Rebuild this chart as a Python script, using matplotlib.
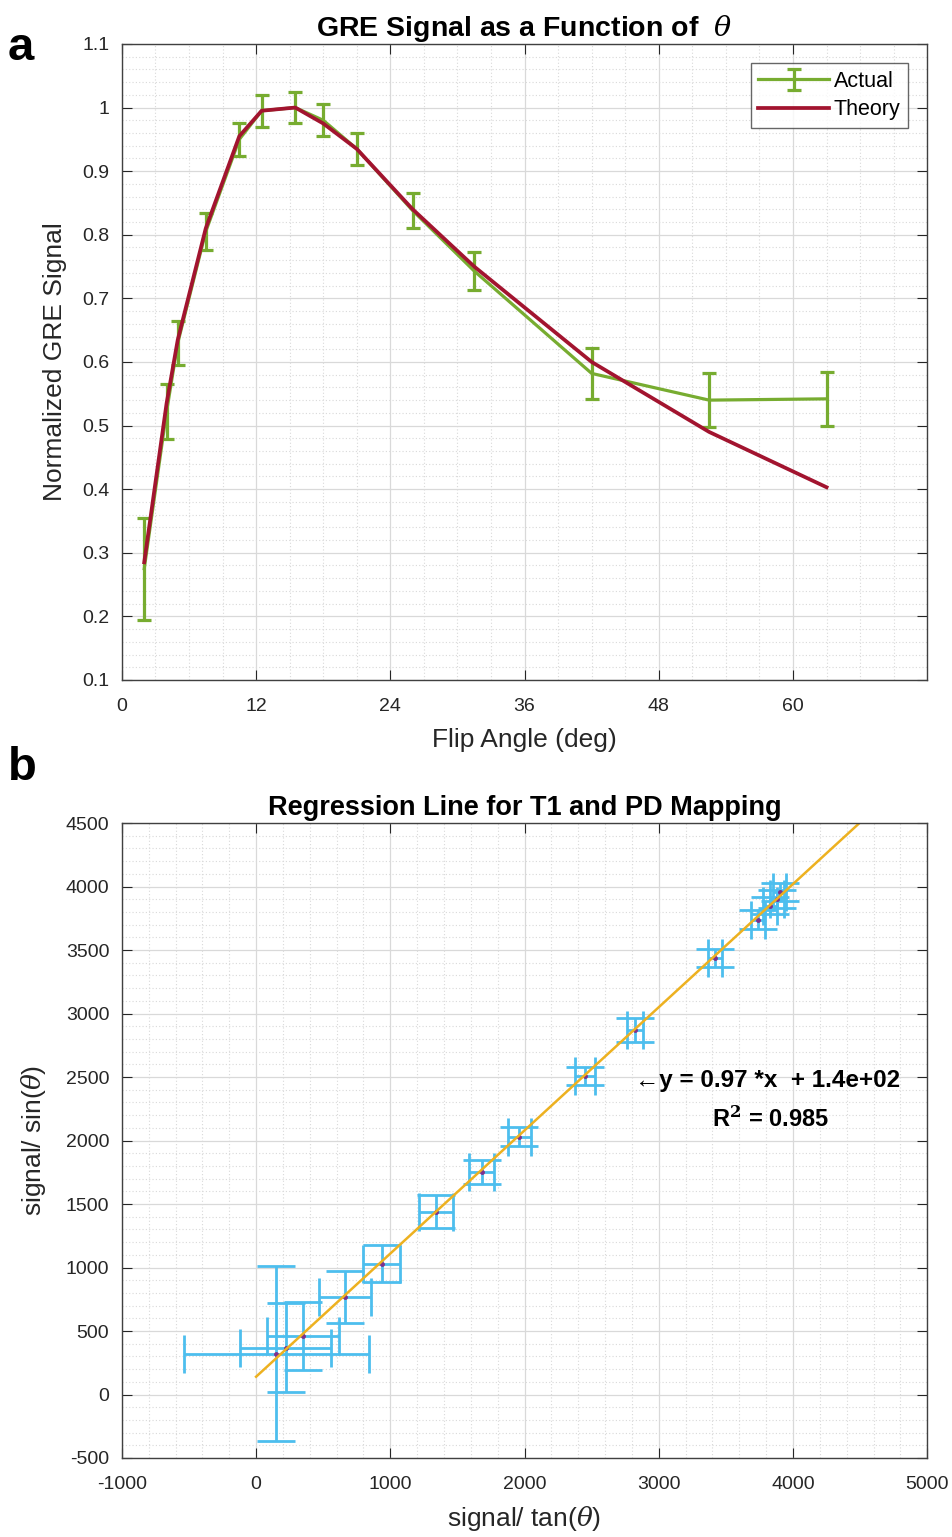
"""Two-panel GRE figure: signal vs flip angle, and the T1/PD regression."""

import matplotlib
matplotlib.use("Agg")
import matplotlib.pyplot as plt
from matplotlib.ticker import FuncFormatter, MultipleLocator

plt.rcParams.update({
    "font.family": ["Liberation Sans", "DejaVu Sans"],
    "axes.unicode_minus": False,
    "mathtext.fontset": "dejavuserif",
})

# panel a
flip_deg = [2, 4, 5, 7.5, 10.5, 12.5, 15.5, 18, 21, 26, 31.5, 42, 52.5, 63]
actual = [0.275, 0.522, 0.630, 0.805, 0.950, 0.995, 1.000, 0.980, 0.935,
          0.838, 0.743, 0.582, 0.540, 0.542]
actual_err = [0.080, 0.043, 0.035, 0.029, 0.026, 0.025, 0.024, 0.025, 0.025,
              0.028, 0.030, 0.040, 0.042, 0.042]
theory = [0.285, 0.535, 0.635, 0.810, 0.955, 0.995, 1.000, 0.975, 0.935,
          0.840, 0.750, 0.600, 0.490, 0.403]

# panel b
sig_tan = [150, 220, 350, 660, 935, 1340, 1680, 1960, 2450, 2820, 3420,
           3740, 3830, 3880, 3900]
sig_sin = [320, 370, 460, 770, 1030, 1440, 1750, 2030, 2510, 2870, 3440,
           3740, 3850, 3900, 3960]
sig_tan_err = [690, 340, 270, 195, 135, 125, 95, 87, 75, 60, 50,
               55, 50, 50, 50]
sig_sin_err = [690, 350, 270, 205, 145, 130, 95, 75, 72, 95, 72,
               75, 70, 70, 70]
slope, intercept = 0.97, 140
r_squared = 0.985
fit_x = [0, 4500]

GREEN = "#77AC30"
RED = "#A2142F"
BLUE = "#4DBEEE"
ORANGE = "#EDB120"
PURPLE = "#7E2F8E"
TXT = "#262626"


def matlab_axes(ax):
    ax.grid(True, which="major", color="#d9d9d9", lw=0.9, ls="-")
    ax.grid(True, which="minor", color="#d9d9d9", lw=0.8, ls=(0, (1, 2)))
    ax.set_axisbelow(True)
    ax.tick_params(which="both", direction="in", top=True, right=True,
                   labelsize=14, colors=TXT, pad=9)
    ax.tick_params(axis="x", which="both", pad=13)
    ax.tick_params(which="major", length=7)
    ax.tick_params(which="minor", length=0)
    for s in ax.spines.values():
        s.set_color("#404040")
        s.set_linewidth(1.0)


fig = plt.figure(figsize=(9.52, 15.37), dpi=100)

# ---- a ----
ax1 = fig.add_axes([0.128, 0.5576, 0.846, 0.4138])
eb = ax1.errorbar(flip_deg, actual, yerr=actual_err, color=GREEN, lw=2.3,
                  elinewidth=2.3, capsize=5, capthick=2.3, zorder=2)
th, = ax1.plot(flip_deg, theory, color=RED, lw=2.7, zorder=3)
ax1.set_xlim(0, 72)
ax1.set_ylim(0.1, 1.1)
ax1.xaxis.set_major_locator(MultipleLocator(12))
ax1.xaxis.set_minor_locator(MultipleLocator(3))
ax1.yaxis.set_major_locator(MultipleLocator(0.1))
ax1.yaxis.set_minor_locator(MultipleLocator(0.02))
ax1.yaxis.set_major_formatter(FuncFormatter(lambda v, p: f"{v:g}"))
matlab_axes(ax1)
ax1.set_xticks([0, 12, 24, 36, 48, 60])
ax1.set_xlabel("Flip Angle (deg)", fontsize=19, color=TXT, labelpad=9)
ax1.set_ylabel("Normalized GRE Signal", fontsize=19, color=TXT, labelpad=11)
ax1.set_title(r"GRE Signal as a Function of  $\theta$", fontsize=20.5,
              fontweight="bold", pad=6)
leg = ax1.legend([eb, th], ["Actual", "Theory"], loc="upper right",
                 fontsize=15.5, frameon=True, fancybox=False,
                 edgecolor="#404040", handlelength=3.3, handletextpad=0.2,
                 borderaxespad=0.9, labelspacing=0.35, borderpad=0.35)
leg.get_frame().set_linewidth(1.0)

# ---- b ----
ax2 = fig.add_axes([0.128, 0.0514, 0.846, 0.4131])
ax2.errorbar(sig_tan, sig_sin, xerr=sig_tan_err, yerr=sig_sin_err, fmt="none",
             ecolor=BLUE, elinewidth=2.0, capsize=13.5, capthick=2.0)
ax2.plot(sig_tan, sig_sin, ".", color=PURPLE, ms=5)
ax2.plot(fit_x, [slope * x + intercept for x in fit_x], color=ORANGE, lw=1.8)
ax2.set_xlim(-1000, 5000)
ax2.set_ylim(-500, 4500)
ax2.xaxis.set_major_locator(MultipleLocator(1000))
ax2.xaxis.set_minor_locator(MultipleLocator(200))
ax2.yaxis.set_major_locator(MultipleLocator(500))
ax2.yaxis.set_minor_locator(MultipleLocator(100))
matlab_axes(ax2)
ax2.set_xlabel(r"signal/ tan($\theta$)", fontsize=19, color=TXT, labelpad=8)
ax2.set_ylabel(r"signal/ sin($\theta$)", fontsize=19, color=TXT, labelpad=13)
ax2.set_title("Regression Line for T1 and PD Mapping", fontsize=19.5,
              fontweight="bold", pad=6)
ax2.text(2820, 2470, f"\u2190y = {slope:.2f} *x  + 1.4e+02",
         fontsize=17.5, fontweight="bold", va="center", ha="left")
ax2.text(3830, 2170, r"R$^{\bf 2}$ = " + f"{r_squared:.3f}", fontsize=17,
         fontweight="bold", va="center", ha="center")

fig.text(0.008, 0.969, "a", fontsize=34, fontweight="bold", va="center")
fig.text(0.008, 0.500, "b", fontsize=34, fontweight="bold", va="center")

fig.savefig("out.png", dpi=100)
